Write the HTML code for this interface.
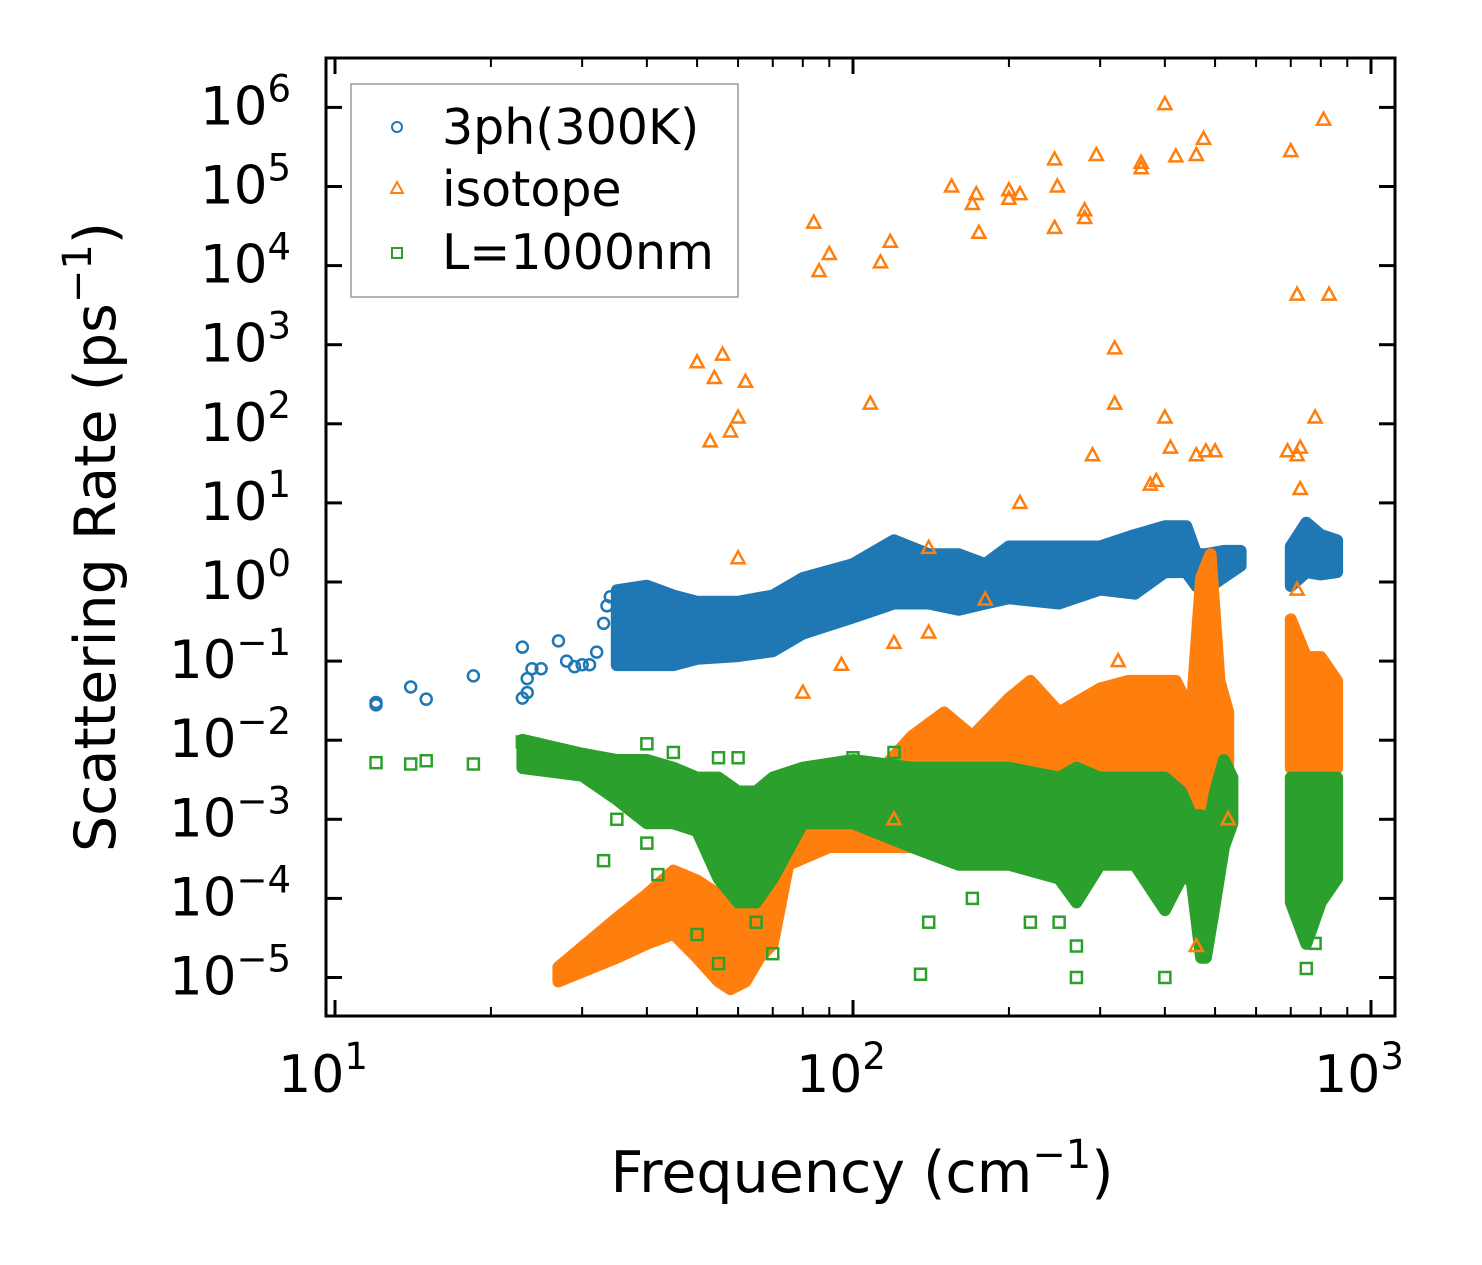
<!DOCTYPE html>
<html><head><meta charset="utf-8">
<style>
html,body{margin:0;padding:0;background:#fff;}
svg{display:block;font-family:"DejaVu Sans","Liberation Sans",sans-serif;}
</style></head>
<body>
<svg id="chart" width="1482" height="1265" viewBox="0 0 1482 1265" xmlns="http://www.w3.org/2000/svg">
<rect width="1482" height="1265" fill="#fff"/>
<g id="bands"></g>
<g id="marks"></g>
<g id="axes"></g>
<text x="862" y="1192" font-size="57" text-anchor="middle">Frequency (cm<tspan font-size="40" dy="-24">−1</tspan><tspan dy="24">)</tspan></text>
<text transform="translate(115,537) rotate(-90)" font-size="57" text-anchor="middle">Scattering Rate (ps<tspan font-size="40" dy="-24">−1</tspan><tspan dy="24">)</tspan></text>
<g>
<rect x="351" y="84" width="387" height="213" fill="#fff" stroke="#999" stroke-width="1.5"/>
<circle cx="397" cy="127" r="5" fill="none" stroke="#1f77b4" stroke-width="2"/>
<text x="442" y="144" font-size="49">3ph(300K)</text>
<polygon points="397,182 403,193 391,193" fill="none" stroke="#ff7f0e" stroke-width="2"/>
<text x="442" y="206" font-size="49">isotope</text>
<rect x="392" y="248" width="10" height="10" fill="none" stroke="#2ca02c" stroke-width="2"/>
<text x="442" y="269" font-size="49">L=1000nm</text>
</g>
</svg>
<script>
// ---- data ----
const blueFreq=[12,12,14,15,18.5,23,23.5,23.5,24,23,25,27,28,29,30,31,32,33,33.5,34];
const blueRate=[0.03,0.028,0.047,0.033,0.065,0.034,0.04,0.06,0.08,0.15,0.08,0.18,0.1,0.085,0.09,0.09,0.13,0.3,0.5,0.65];
const blueBandFreq=[35,40,45,50,60,70,80,100,120,140,160,180,200,250,300,350,400,440,460,480,520,560, null, 700,750,800,860];
const blueBandLo=[0.1,0.1,0.1,0.12,0.13,0.15,0.25,0.4,0.6,0.6,0.5,0.6,0.7,0.6,0.9,0.8,1.5,1.5,1.0,0.9,1.3,1.8, null, 1.0,1.5,1.4,1.5];
const blueBandHi=[0.7,0.8,0.6,0.5,0.5,0.6,1.0,1.5,3,2,2,1.5,2.5,2.5,2.5,3.5,4.5,4.5,2,2,2.2,2.2, null, 2.5,5,3.5,3];

const orangeFreq=[50,53,54,56,58,60,62,84,86,90,108,113,118,155,170,173,175,200,200,210,245,245,248,280,280,295,320,320,360,360,400,420,460,475,700,720,810,830,400,410,375,385,290,210,60,140,140,120,95,80,325,460,480,500,690,730,720,730,780,720,460,530,120,180];
const orangeRate=[600,60,380,750,80,120,340,3.5e4,8500,1.4e4,180,1.1e4,2e4,1e5,6e4,8e4,2.6e4,9e4,7e4,8e4,2.2e5,3e4,1e5,5e4,4e4,2.5e5,900,180,2e5,1.7e5,1.1e6,2.4e5,2.5e5,4e5,2.8e5,4300,7e5,4300,120,50,17,19,40,10,2,2.7,0.23,0.17,0.09,0.04,0.1,40,45,45,45,50,40,15,120,0.8,2.5e-5,1e-3,1e-3,0.6];
const orangeBandFreq=[27,35,40,45,50,55,58,62,66,70,75,90,110,130,150,170,200,220,250,300,340,380,420,450,470,490,510,530, null, 700,750,800,860];
const orangeBandLo=[1e-5,2e-5,3e-5,4e-5,2e-5,1e-5,8e-6,1e-5,2e-5,3e-5,3e-4,5e-4,5e-4,5e-4,5e-4,4e-4,4e-4,4e-4,5e-4,5e-4,5e-4,1e-3,5e-4,1e-3,2e-3,1e-3,1e-3,3e-3, null, 5e-3,5e-3,3e-3,5e-3];
const orangeBandHi=[1.2e-5,5e-5,1e-4,2e-4,1.5e-4,1e-4,2e-4,2e-4,3e-4,5e-4,1e-3,2e-3,3e-3,1e-2,2e-2,1e-2,3e-2,5e-2,2e-2,4e-2,0.05,0.05,0.05,0.02,1,2,0.05,0.02, null, 0.3,0.1,0.1,0.05];

const greenFreq=[12,14,15,18.5,33,35,40,42,50,55,65,70,135,140,170,220,250,270,270,400,780,750,40,45,55,60,100,120,23,24];
const greenRate=[5.2e-3,5e-3,5.5e-3,5e-3,3e-4,1e-3,5e-4,2e-4,3.5e-5,1.5e-5,5e-5,2e-5,1.1e-5,5e-5,1e-4,5e-5,5e-5,2.5e-5,1e-5,1e-5,2.7e-5,1.3e-5,9e-3,7e-3,6e-3,6e-3,6e-3,7e-3,9.5e-3,7e-3];
const greenBandFreq=[23,30,35,40,45,50,55,60,65,70,80,100,130,160,200,250,270,300,350,400,430,450,470,480,500,520,540, null, 700,750,800,860];
const greenBandLo=[5e-3,4e-3,2e-3,1e-3,1e-3,8e-4,2e-4,1e-4,1e-4,2e-4,1e-3,1e-3,5e-4,3e-4,3e-4,2e-4,1e-4,3e-4,3e-4,8e-5,2e-4,2e-4,2e-5,2e-5,1e-4,5e-4,1e-3, null, 1e-4,3e-5,1e-4,2e-4];
const greenBandHi=[9e-3,6e-3,5e-3,5e-3,4e-3,3e-3,3e-3,2e-3,2e-3,3e-3,4e-3,5e-3,4e-3,4e-3,4e-3,3e-3,4e-3,3e-3,3e-3,3e-3,2e-3,1e-3,1e-3,5e-4,2e-3,5e-3,3e-3, null, 3e-3,3e-3,3e-3,3e-3];

const xTickExp=[1,2,3];
const yTickExp=[-5,-4,-3,-2,-1,0,1,2,3,4,5,6];

// ---- axes functions ----
const X0=335, XD=518, Y0=582, YD=79.1;
function xs(f){return X0+XD*(Math.log10(f)-1);}
function ys(v){return Y0-YD*Math.log10(v);}
const NS='http://www.w3.org/2000/svg';
function mk(tag,attrs,parent){const e=document.createElementNS(NS,tag);for(const k in attrs)e.setAttribute(k,attrs[k]);parent.appendChild(e);return e;}

const bands=document.getElementById('bands');
const marks=document.getElementById('marks');
const axes=document.getElementById('axes');

function drawBand(fr,lo,hi,color,name){
  let segs=[[]];
  for(let i=0;i<fr.length;i++){ if(fr[i]===null){segs.push([]);continue;} segs[segs.length-1].push(i); }
  segs.forEach(s=>{
    if(!s.length)return;
    let pts=s.map(i=>xs(fr[i]).toFixed(1)+','+(ys(hi[i])-4).toFixed(1));
    pts=pts.concat(s.slice().reverse().map(i=>xs(fr[i]).toFixed(1)+','+(ys(lo[i])+4).toFixed(1)));
    const p=mk('polygon',{points:pts.join(' '),fill:color,stroke:color,'stroke-width':12,'stroke-linejoin':'round'},bands);
    
    
  });
}
function drawPoints(fr,rt,shape,color,name){
  for(let i=0;i<fr.length;i++){
    const x=xs(fr[i]), y=ys(rt[i]);
    let e;
    if(shape==='circle') e=mk('circle',{cx:x,cy:y,r:5.5,fill:'none',stroke:color,'stroke-width':2.5},marks);
    else if(shape==='tri') e=mk('polygon',{points:`${x},${y-7} ${x+6.5},${y+5} ${x-6.5},${y+5}`,fill:'none',stroke:color,'stroke-width':2.5},marks);
    else e=mk('rect',{x:x-5.5,y:y-5.5,width:11,height:11,fill:'none',stroke:color,'stroke-width':2.5},marks);
    
    
  }
}
drawBand(blueBandFreq,blueBandLo,blueBandHi,'#1f77b4','3ph-cloud');
drawPoints(blueFreq,blueRate,'circle','#1f77b4','3ph-point');
drawBand(orangeBandFreq,orangeBandLo,orangeBandHi,'#ff7f0e','isotope-cloud');
drawPoints(orangeFreq,orangeRate,'tri','#ff7f0e','isotope-point');
drawBand(greenBandFreq,greenBandLo,greenBandHi,'#2ca02c','boundary-cloud');
drawPoints(greenFreq,greenRate,'rect','#2ca02c','boundary-point');

// frame
const L=326,R=1395,T=58,B=1016;
const fr=mk('rect',{x:L,y:T,width:R-L,height:B-T,fill:'none',stroke:'#000','stroke-width':3},axes);


for(let e=1;e<=3;e++){
  for(let m=1;m<10;m++){
    if(e===3&&m>1)break;
    const x=xs(m*Math.pow(10,e));
    const len=m===1?16:9;
    mk('line',{x1:x,y1:B,x2:x,y2:B-len,stroke:'#000','stroke-width':m===1?3:2},axes);
    mk('line',{x1:x,y1:T,x2:x,y2:T+len,stroke:'#000','stroke-width':m===1?3:2},axes);
  }
}
xTickExp.forEach(e=>{
  const x=xs(Math.pow(10,e));
  const t=mk('text',{x:x-12,y:1092,'font-size':52,'text-anchor':'middle'},axes);
  t.textContent='10';
  const s=mk('tspan',{'font-size':37,dy:-23},t); s.textContent=String(e);
  
  
});
yTickExp.forEach(e=>{
  const y=ys(Math.pow(10,e));
  mk('line',{x1:L,y1:y,x2:L+16,y2:y,stroke:'#000','stroke-width':3},axes);
  mk('line',{x1:R,y1:y,x2:R-16,y2:y,stroke:'#000','stroke-width':3},axes);
  const t=mk('text',{x:291,y:y+17,'font-size':53,'text-anchor':'end'},axes);
  t.textContent='10';
  const s=mk('tspan',{'font-size':37,dy:-23},t); s.textContent=e<0?'−'+(-e):String(e);
  
  
});
</script>
</body></html>
